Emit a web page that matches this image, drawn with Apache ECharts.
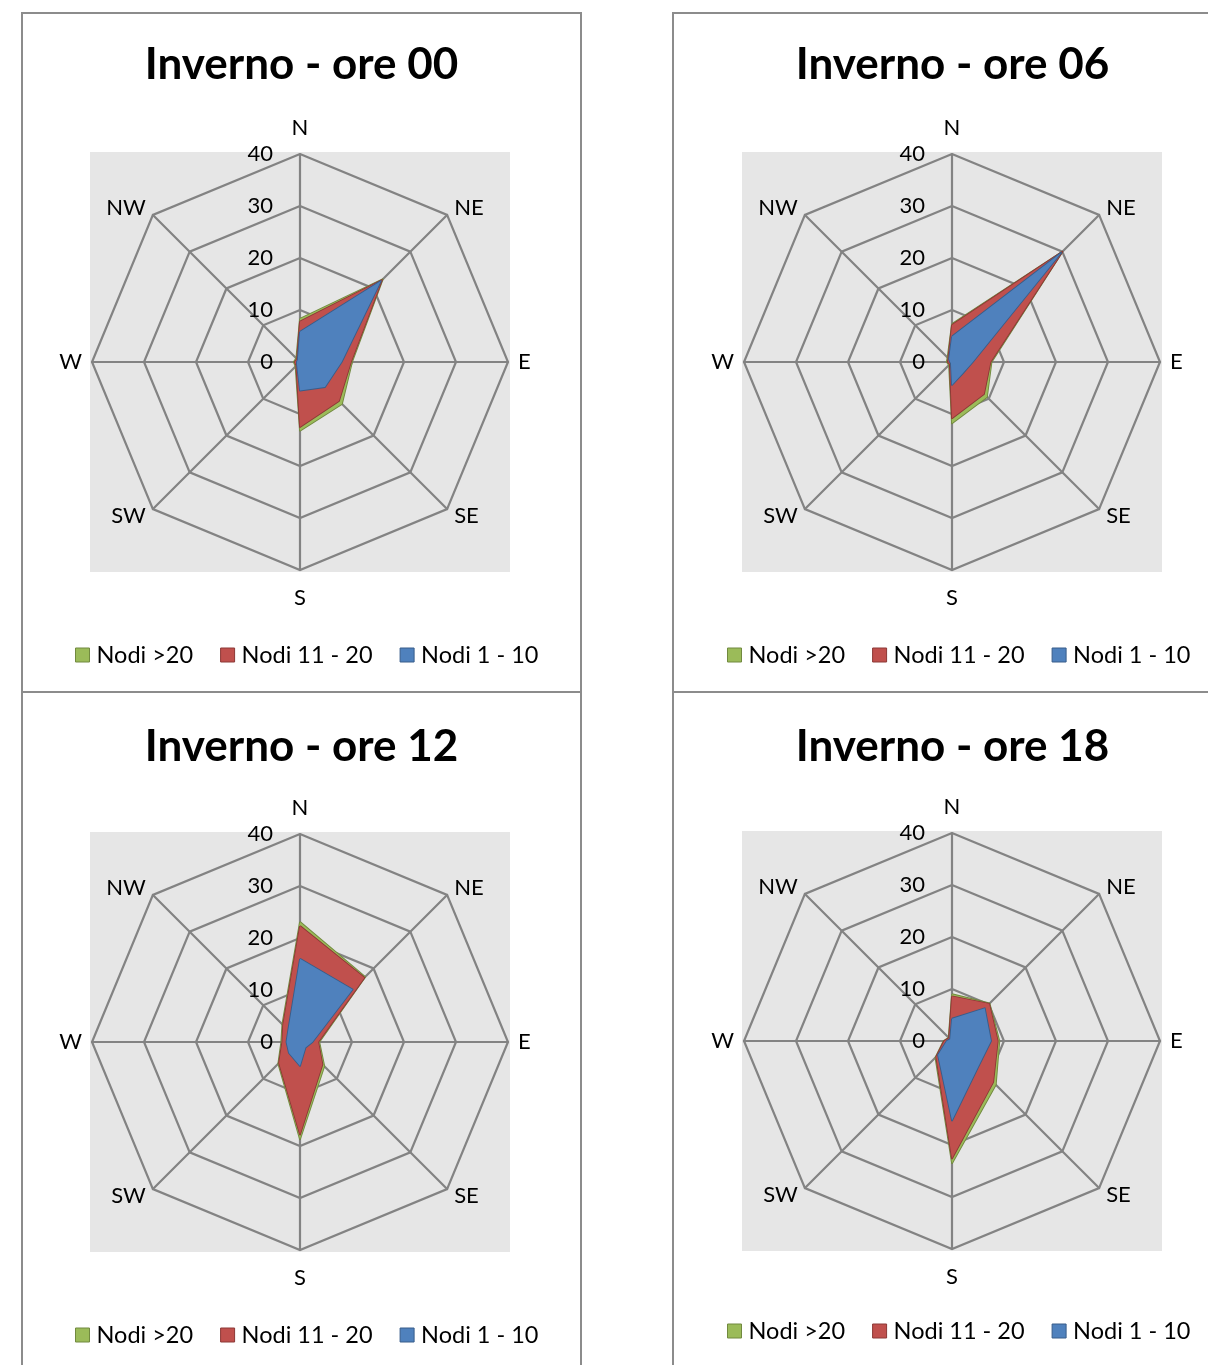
<!DOCTYPE html>
<html>
<head>
<meta charset="utf-8">
<script src="https://cdn.jsdelivr.net/npm/echarts@6/dist/echarts.min.js"></script>
<style>
  html, body { margin: 0; padding: 0; background: #fff; width: 1208px; height: 1365px; overflow: hidden; position: relative; }
  .frame { position: absolute; box-sizing: border-box; border: 2px solid #8c8c8c; }
  .chart { position: absolute; }
</style>
</head>
<body>
<script>
// Wind directions, clockwise from north
const directions = ['N', 'NE', 'E', 'SE', 'S', 'SW', 'W', 'NW'];
const seriesNames = ['Nodi >20', 'Nodi 11 - 20', 'Nodi 1 - 10'];
const titles = ['Inverno - ore 00', 'Inverno - ore 06', 'Inverno - ore 12', 'Inverno - ore 18'];
const radialMax = 40;
const radialStep = 10;

// Frequencies (%) per direction: N, NE, E, SE, S, SW, W, NW
const ore00_gt20  = [8.3, 22.5, 10.0, 11.4, 13.2, 1.2, 1.2, 1.0];
const ore00_11_20 = [7.8, 22.3, 9.8, 10.6, 12.5, 1.0, 1.0, 0.8];
const ore00_1_10  = [5.8, 22.0, 8.0, 6.8, 5.5, 0.8, 0.6, 0.6];

const ore06_gt20  = [7.3, 30.0, 7.6, 9.5, 11.8, 0.8, 1.0, 1.2];
const ore06_11_20 = [7.1, 30.0, 7.4, 8.7, 10.8, 0.6, 0.8, 1.0];
const ore06_1_10  = [4.9, 29.7, 4.0, 3.0, 4.4, 0.3, 0.4, 0.8];

const ore12_gt20  = [23.1, 17.7, 3.7, 6.6, 18.7, 5.9, 3.6, 4.8];
const ore12_11_20 = [22.3, 17.5, 3.5, 6.1, 17.8, 5.7, 3.4, 4.6];
const ore12_1_10  = [16.0, 14.3, 2.4, 1.5, 4.6, 3.0, 2.6, 3.2];

const ore18_gt20  = [9.0, 10.2, 9.1, 11.9, 23.5, 4.5, 1.6, 0.9];
const ore18_11_20 = [8.6, 10.1, 8.8, 11.2, 22.6, 4.3, 1.5, 0.8];
const ore18_1_10  = [4.3, 8.9, 7.5, 7.1, 15.3, 3.8, 1.0, 0.5];

const panelValues = [
  [ore00_gt20, ore00_11_20, ore00_1_10],
  [ore06_gt20, ore06_11_20, ore06_1_10],
  [ore12_gt20, ore12_11_20, ore12_1_10],
  [ore18_gt20, ore18_11_20, ore18_1_10]
];

const fills   = ['#9BBB59', '#C0504D', '#4F81BD'];
const strokes = ['#71893F', '#8C3836', '#385D8A'];
const FONT = 'Lato, "Open Sans", sans-serif';
const gridGray = '#838383';

// Frame placement on the page, radar centre inside each frame
const panels = [
  { x: 21,  y: 12,  fw: 561, fh: 681, cx: 279, cy: 350, titleTop: 26, legendTop: 626, legendLeft: 49 },
  { x: 672, y: 12,  fw: 600, fh: 681, cx: 280, cy: 350, titleTop: 26, legendTop: 626, legendLeft: 50 },
  { x: 21,  y: 691, fw: 561, fh: 700, cx: 279, cy: 351, titleTop: 29, legendTop: 627, legendLeft: 49 },
  { x: 672, y: 691, fw: 600, fh: 700, cx: 280, cy: 350, titleTop: 29, legendTop: 623, legendLeft: 50 }
];

// Gap between each direction label and the outer ring
const nameGaps = { N: 15, S: 17 };

// ECharts lays radar indicators out counter-clockwise; reorder so they run clockwise
const ccwOrder = [0, 7, 6, 5, 4, 3, 2, 1];
const ccw = arr => ccwOrder.map(i => arr[i]);

panels.forEach((p, k) => {
  const frame = document.createElement('div');
  frame.className = 'frame';
  Object.assign(frame.style, { left: p.x + 'px', top: p.y + 'px', width: p.fw + 'px', height: p.fh + 'px' });
  document.body.appendChild(frame);

  const el = document.createElement('div');
  el.className = 'chart';
  Object.assign(el.style, { left: p.x + 'px', top: p.y + 'px', width: '561px', height: p.fh + 'px' });
  document.body.appendChild(el);

  const radius = 208;
  const chart = echarts.init(el, null, { renderer: 'canvas' });
  chart.setOption({
    animation: false,
    title: {
      text: titles[k],
      left: 'center',
      top: p.titleTop,
      textStyle: { fontFamily: FONT, fontWeight: 'bold', fontSize: 44, color: '#000' }
    },
    graphic: [{
      type: 'rect',
      z: -10,
      silent: true,
      shape: { x: p.cx - radius - 2, y: p.cy - radius - 2, width: 2 * radius + 4, height: 2 * radius + 4 },
      style: { fill: '#e6e6e6' }
    }],
    legend: {
      data: seriesNames,
      left: p.legendLeft,
      top: p.legendTop,
      icon: 'rect',
      itemWidth: 14,
      itemHeight: 14,
      itemGap: 27,
      textStyle: { fontFamily: FONT, fontSize: 23.5, color: '#000', padding: [0, 0, 0, 2] },
      itemStyle: { borderWidth: 1 }
    },
    radar: {
      center: [p.cx, p.cy],
      radius: radius,
      startAngle: 90,
      shape: 'polygon',
      splitNumber: radialMax / radialStep,
      nameGap: 10,
      axisName: { color: '#000', fontFamily: FONT, fontSize: 22 },
      indicator: ccw(directions).map((d, i) => {
        const ind = { name: d, min: 0, max: radialMax };
        if (nameGaps[d] !== undefined) ind.nameGap = nameGaps[d];
        if (i === 0) ind.axisLabel = { show: true };
        return ind;
      }),
      axisLine: { lineStyle: { color: gridGray, width: 2.2 } },
      splitLine: { lineStyle: { color: gridGray, width: 2.2 } },
      splitArea: { show: false },
      axisTick: { show: false },
      axisLabel: { show: false, color: '#000', fontFamily: FONT, fontSize: 22, margin: 27 }
    },
    series: [{
      type: 'radar',
      symbol: 'none',
      z: 1,
      data: seriesNames.map((name, s) => ({
        name: name,
        value: ccw(panelValues[k][s]),
        areaStyle: { color: fills[s], opacity: 1 },
        lineStyle: { color: strokes[s], width: 1.8 },
        itemStyle: { color: fills[s], borderColor: strokes[s] }
      }))
    }]
  });
});
</script>
</body>
</html>
